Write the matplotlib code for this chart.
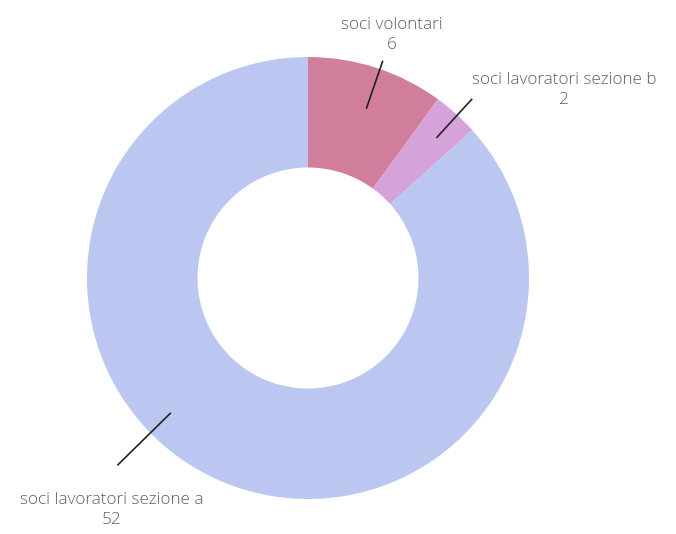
import matplotlib.pyplot as plt
import numpy as np

labels = ["soci volontari", "soci lavoratori sezione b", "soci lavoratori sezione a"]
values = [6, 2, 52]
colors = ["#D07E9B", "#D6A2DA", "#BBC7F1"]

# leader line (angle, inner r, outer r) and label anchor, in units of outer radius
line_angles = [71, 47.5, -135.5]
line_r = [(0.81, 1.04), (0.86, 1.10), (0.87, 1.21)]
label_pos = [(0.38, 1.10), (1.16, 0.85), (-0.89, -1.05)]

W, H = 676, 534
cx, cy, R = 308, 278, 221

fig = plt.figure(figsize=(W / 100, H / 100), dpi=100)
ax = fig.add_axes([0, 0, 1, 1])

ax.pie(values, colors=colors, startangle=90, counterclock=False, radius=1,
       wedgeprops=dict(width=0.5, linewidth=0))

for lab, val, ang, (r0, r1), (tx, ty) in zip(labels, values, line_angles, line_r, label_pos):
    a = np.deg2rad(ang)
    ax.plot([r0 * np.cos(a), r1 * np.cos(a)], [r0 * np.sin(a), r1 * np.sin(a)],
            color="#222222", lw=1.2, solid_capstyle="butt")
    ax.text(tx, ty, f"{lab}\n{val}", ha="center", va="center", fontsize=12.3,
            color="#606060", family="Open Sans", fontweight="light", linespacing=1.3)

ax.set_xlim(-cx / R, (W - cx) / R)
ax.set_ylim(-(H - cy) / R, cy / R)
ax.set_aspect("equal")
ax.axis("off")

fig.savefig("out.png", dpi=100, facecolor="white")
